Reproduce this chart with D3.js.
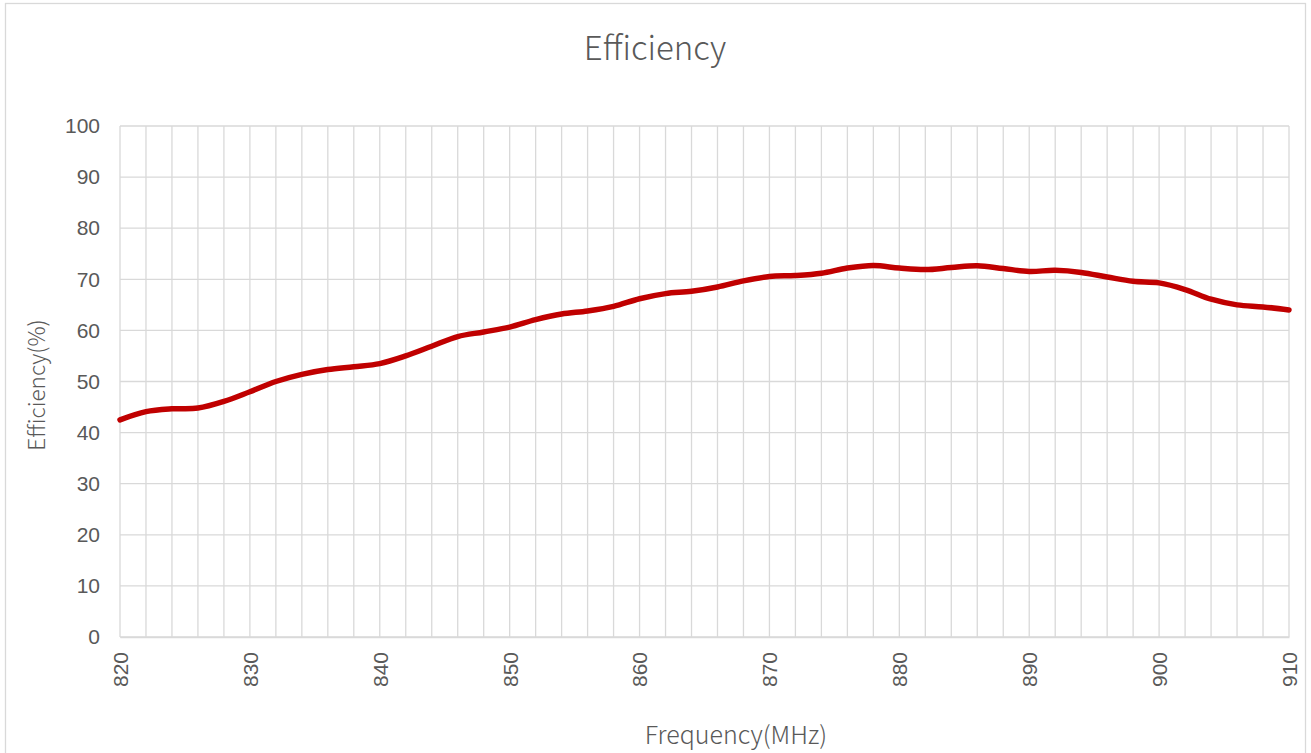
<!DOCTYPE html>
<html>
<head>
<meta charset="utf-8">
<script src="https://cdn.jsdelivr.net/npm/d3@7/dist/d3.min.js"></script>
<style>
  html, body { margin: 0; padding: 0; background: #fff; }
  svg { display: block; }
  text { font-family: "Noto Sans CJK SC", "Noto Sans", sans-serif; fill: #595959; }
</style>
</head>
<body>
<svg id="chart" width="1311" height="753"></svg>
<script>
const title = "Efficiency";
const xTitle = "Frequency(MHz)";
const yTitle = "Efficiency(%)";

const frequencies = [820,822,824,826,828,830,832,834,836,838,840,842,844,846,848,850,852,854,856,858,860,862,864,866,868,870,872,874,876,878,880,882,884,886,888,890,892,894,896,898,900,902,904,906,908,910];
const efficiency = [42.5,44.1,44.65,44.8,46.1,48.0,50.0,51.4,52.35,52.9,53.5,55.0,56.9,58.8,59.7,60.65,62.1,63.2,63.8,64.7,66.2,67.2,67.65,68.5,69.7,70.55,70.75,71.2,72.2,72.7,72.2,71.9,72.3,72.65,72.1,71.55,71.75,71.35,70.45,69.6,69.3,68.0,66.1,65.0,64.6,64.0];

const xTickLabels = [820,830,840,850,860,870,880,890,900,910];
const yTickLabels = [0,10,20,30,40,50,60,70,80,90,100];
const xGridValues = frequencies;

const svg = d3.select("#chart");
const margin = { left: 120, right: 1289, top: 126, bottom: 637 };

const x = d3.scaleLinear().domain([820, 910]).range([margin.left, margin.right]);
const y = d3.scaleLinear().domain([0, 100]).range([margin.bottom, margin.top]);

// chart border
svg.append("rect")
  .attr("x", 5.5).attr("y", 3.5)
  .attr("width", 1300).attr("height", 760)
  .attr("fill", "none").attr("stroke", "#d9d9d9").attr("stroke-width", 1.3);

// gridlines
const grid = svg.append("g");
grid.selectAll("line.h").data(yTickLabels).join("line")
  .attr("class", "h")
  .attr("x1", margin.left).attr("x2", margin.right)
  .attr("y1", d => y(d)).attr("y2", d => y(d))
  .attr("stroke", "#d9d9d9").attr("stroke-width", 1.3);
grid.selectAll("line.v").data(xGridValues).join("line")
  .attr("class", "v")
  .attr("x1", d => x(d)).attr("x2", d => x(d))
  .attr("y1", margin.top).attr("y2", margin.bottom)
  .attr("stroke", "#d9d9d9").attr("stroke-width", 1.3);

// y axis labels
const yAxis = d3.axisLeft(y).tickValues(yTickLabels).tickSize(0).tickPadding(20);
const gy = svg.append("g").attr("transform", `translate(${margin.left},0)`).call(yAxis);
gy.select(".domain").remove();
gy.selectAll("text").style("font-size", "21px").attr("fill", "#595959")
  .style("font-family", "'Liberation Sans', Arial, sans-serif");

// x axis labels
const xAxis = d3.axisBottom(x).tickValues(xTickLabels).tickSize(0).tickFormat(d3.format("d"));
const gx = svg.append("g").attr("transform", `translate(0,${margin.bottom})`).call(xAxis);
gx.select(".domain").attr("stroke", "#d9d9d9").attr("stroke-width", 1.3);
gx.selectAll("text")
  .style("font-size", "21px")
  .style("font-family", "'Liberation Sans', Arial, sans-serif")
  .attr("fill", "#595959")
  .attr("text-anchor", "end")
  .attr("dy", "0.35em")
  .attr("transform", "translate(0,15) rotate(-90)")
  .attr("x", 0).attr("y", 0);

// line
const line = d3.line()
  .x((d, i) => x(frequencies[i]))
  .y(d => y(d))
  .curve(d3.curveCatmullRom.alpha(0.5));
svg.append("path")
  .datum(efficiency)
  .attr("d", line)
  .attr("fill", "none")
  .attr("stroke", "#c00000")
  .attr("stroke-width", 5.5)
  .attr("stroke-linecap", "round")
  .attr("stroke-linejoin", "round");

// titles
svg.append("text").attr("x", 655).attr("y", 60)
  .attr("text-anchor", "middle").style("font-size", "33px").style("font-weight", 300)
  .text(title);
svg.append("text").attr("x", 736).attr("y", 744)
  .attr("text-anchor", "middle").style("font-size", "25px").style("font-weight", 300)
  .text(xTitle);
svg.append("text")
  .attr("transform", "translate(45,385) rotate(-90)")
  .attr("text-anchor", "middle").style("font-size", "22.5px").style("font-weight", 300)
  .text(yTitle);
</script>
</body>
</html>
